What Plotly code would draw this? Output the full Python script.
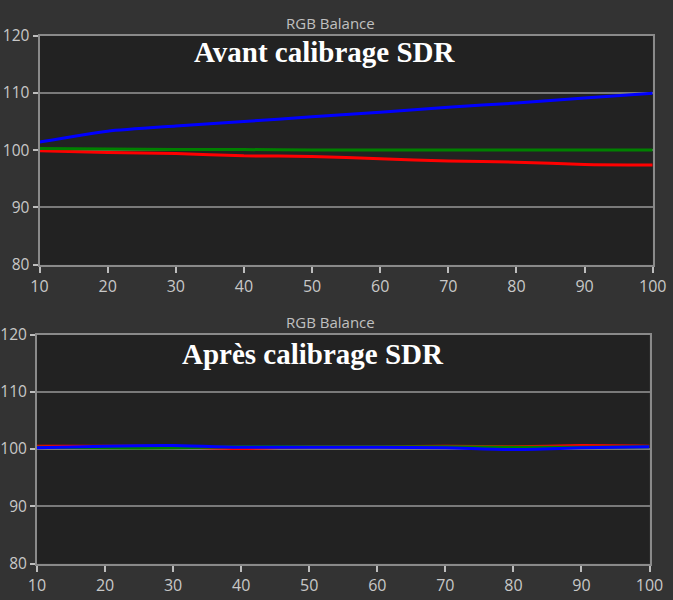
import plotly.graph_objects as go

x_levels = [10, 20, 30, 40, 50, 60, 70, 80, 90, 100]

before_red = [99.9, 99.6, 99.4, 99.0, 98.9, 98.5, 98.1, 97.9, 97.5, 97.4]
before_green = [100.3, 100.2, 100.1, 100.1, 100.0, 100.0, 100.0, 100.0, 100.0, 100.0]
before_blue = [101.4, 103.3, 104.2, 105.0, 105.8, 106.6, 107.5, 108.2, 109.1, 109.9]

after_red = [100.5, 100.5, 100.4, 100.1, 100.4, 100.4, 100.5, 100.4, 100.6, 100.5]
after_green = [100.3, 100.2, 100.2, 100.4, 100.4, 100.4, 100.4, 100.3, 100.3, 100.4]
after_blue = [100.2, 100.5, 100.6, 100.3, 100.3, 100.3, 100.2, 99.9, 100.2, 100.4]

y_ticks = [80, 90, 100, 110, 120]
panel_titles = ["Avant calibrage SDR", "Après calibrage SDR"]
chart_title = "RGB Balance"

colors = {"red": "#ff0000", "green": "#008000", "blue": "#0000ff"}

fig = go.Figure()

panels = [
    ("x", "y", before_red, before_green, before_blue),
    ("x2", "y2", after_red, after_green, after_blue),
]
for xa, ya, r, g, b in panels:
    for name, vals in (("red", r), ("green", g), ("blue", b)):
        fig.add_trace(go.Scatter(
            x=x_levels, y=vals, mode="lines", xaxis=xa, yaxis=ya,
            line=dict(color=colors[name], width=3, shape="spline", smoothing=0.6),
            showlegend=False, hoverinfo="skip",
        ))

W, H = 673, 600
grid_col = "#7a7a7a"
axis_col = "#8a8a8a"
x_tick_font = dict(family="Open Sans, Noto Sans, sans-serif", size=16, color="#c8c8c8")
y_tick_font = dict(family="Open Sans, Noto Sans, sans-serif", size=15.5, color="#c8c8c8")

def xaxis(domain, anchor):
    return dict(domain=domain, anchor=anchor, range=[10, 100], tickvals=x_levels,
                showgrid=False, zeroline=False, showline=True, linecolor=axis_col,
                linewidth=2, mirror=True, ticks="outside", ticklen=6, tickwidth=2,
                tickcolor="#bdbdbd", tickfont=x_tick_font, automargin=False)

def yaxis(domain, anchor):
    return dict(domain=domain, anchor=anchor, range=[80, 120], tickvals=y_ticks,
                showgrid=True, gridcolor=grid_col, gridwidth=1.5, zeroline=False,
                showline=True, linecolor=axis_col, linewidth=2, mirror=True,
                ticks="outside", ticklen=5, tickwidth=2, tickcolor="#bdbdbd",
                tickfont=y_tick_font, automargin=False)

top_x = [39.5 / W, 652.7 / W]
top_y = [1 - 264.7 / H, 1 - 35.5 / H]
bot_x = [37.0 / W, 649.5 / W]
bot_y = [1 - 563.5 / H, 1 - 334.5 / H]

fig.update_layout(
    width=W, height=H,
    margin=dict(l=0, r=0, t=0, b=0, pad=0),
    paper_bgcolor="#333333",
    plot_bgcolor="#222222",
    xaxis=xaxis(top_x, "y"),
    yaxis=yaxis(top_y, "x"),
    xaxis2=xaxis(bot_x, "y2"),
    yaxis2=yaxis(bot_y, "x2"),
)

ann_title_font = dict(family="Open Sans, Noto Sans, sans-serif", size=15, color="#c0c0c0")
big_font = dict(family="Liberation Serif, Times New Roman, serif", size=29, color="#ffffff")

fig.add_annotation(text=chart_title, x=330 / W, y=1 - 23 / H, xref="paper", yref="paper",
                   showarrow=False, font=ann_title_font, xanchor="center", yanchor="middle")
fig.add_annotation(text=chart_title, x=330 / W, y=1 - 322 / H, xref="paper", yref="paper",
                   showarrow=False, font=ann_title_font, xanchor="center", yanchor="middle")
fig.add_annotation(text="<b>" + panel_titles[0] + "</b>", x=324.5 / W, y=1 - 52 / H,
                   xref="paper", yref="paper", showarrow=False, font=big_font,
                   xanchor="center", yanchor="middle")
fig.add_annotation(text="<b>" + panel_titles[1] + "</b>", x=313 / W, y=1 - 354 / H,
                   xref="paper", yref="paper", showarrow=False, font=big_font,
                   xanchor="center", yanchor="middle")

fig.write_html(
    "out.html",
    config={"displayModeBar": False},
    post_script="document.body.style.margin='0';document.body.style.overflow='hidden';"
                "document.body.style.background='#333333';",
)
